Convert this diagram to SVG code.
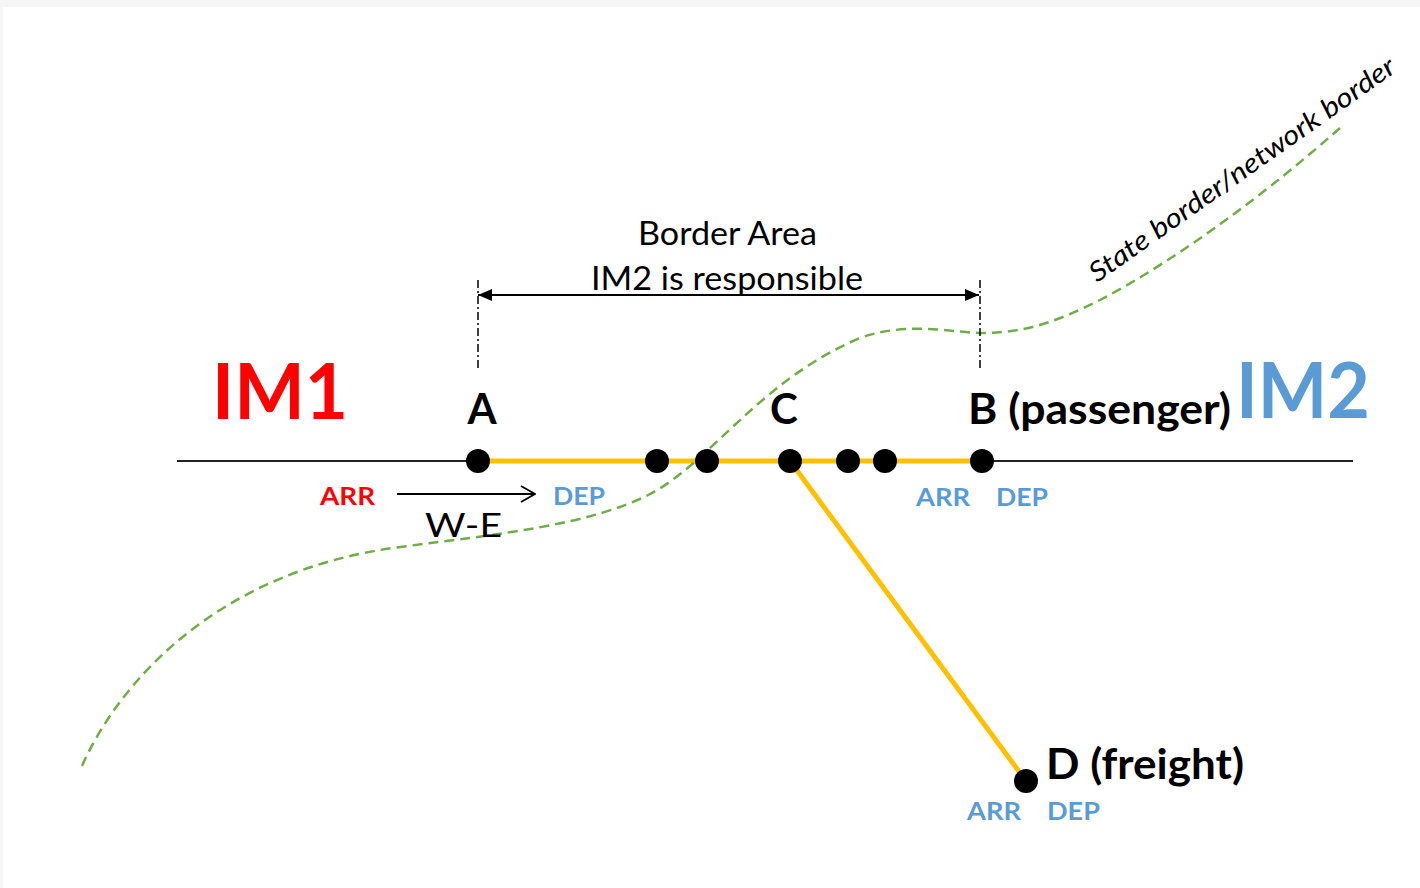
<svg xmlns="http://www.w3.org/2000/svg" width="1420" height="888" viewBox="0 0 1420 888">
<defs>
<style>
.lbl{font-family:Lato,"Liberation Sans",sans-serif;font-weight:bold;fill:#000}
.big{font-family:Lato,"Liberation Sans",sans-serif;font-weight:bold;font-size:77px}
.small{font-family:Lato,"Liberation Sans",sans-serif;font-weight:bold;font-size:25px}
.reg{font-family:Lato,"Liberation Sans",sans-serif;font-size:32px;fill:#000}
.red{fill:#FF0000}
.blue{fill:#5B9BD5}
.track{stroke:#FFC000;stroke-width:5;fill:none}
.dot{fill:#000}
</style>
<marker id="fa" viewBox="0 0 14 12" refX="14" refY="6" markerWidth="14" markerHeight="12" markerUnits="userSpaceOnUse" orient="auto-start-reverse">
<path d="M0,0 L14,6 L0,12 Z" fill="#000"/>
</marker>
<marker id="oa" viewBox="0 0 16 18" refX="15" refY="9" markerWidth="16" markerHeight="18" markerUnits="userSpaceOnUse" orient="auto">
<path d="M1,1 L15,9 L1,17" fill="none" stroke="#000" stroke-width="1.8"/>
</marker>
</defs>
<rect x="0" y="0" width="1420" height="888" fill="#f5f5f5"/>
<rect x="3" y="7" width="1417" height="881" fill="#ffffff"/>

<g id="connectors">
<line x1="177" y1="461" x2="1353" y2="461" stroke="#222" stroke-width="1.8"/>
<line x1="478" y1="461" x2="982" y2="461" class="track"/>
<line x1="790" y1="461" x2="1026" y2="781" class="track"/>
<path id="border" d="M82,766 C120,680 220,570 400,547 C500,534 590,525 650,494 C710,463 760,380 860,338 C910,320 960,334 985,333 C1030,332 1060,320 1100,300 C1180,258 1270,190 1340,128" fill="none" stroke="#70AD47" stroke-width="2.5" stroke-dasharray="10 6"/>
<line x1="478" y1="280" x2="478" y2="368" stroke="#000" stroke-width="1.5" stroke-dasharray="8 3 2 3"/>
<line x1="980" y1="280" x2="980" y2="368" stroke="#000" stroke-width="1.5" stroke-dasharray="8 3 2 3"/>
<line x1="478" y1="295" x2="979" y2="295" stroke="#000" stroke-width="2" marker-start="url(#fa)" marker-end="url(#fa)"/>
<line x1="397" y1="494" x2="535" y2="494" stroke="#000" stroke-width="1.8" marker-end="url(#oa)"/>
</g>

<g id="node-A">
<circle cx="478" cy="461" r="12" class="dot"/>
<text x="482" y="424" text-anchor="middle" class="lbl" font-size="42">A</text>
<text x="320" y="505" class="small red" textLength="55" lengthAdjust="spacingAndGlyphs">ARR</text>
<text x="553" y="505" class="small blue" textLength="52" lengthAdjust="spacingAndGlyphs">DEP</text>
</g>
<g id="node-p1"><circle cx="657" cy="461" r="12" class="dot"/></g>
<g id="node-p2"><circle cx="707" cy="461" r="12" class="dot"/></g>
<g id="node-C">
<circle cx="790" cy="461" r="12" class="dot"/>
<text x="784" y="424" text-anchor="middle" class="lbl" font-size="42">C</text>
</g>
<g id="node-p3"><circle cx="848" cy="461" r="12" class="dot"/></g>
<g id="node-p4"><circle cx="885" cy="461" r="12" class="dot"/></g>
<g id="node-B">
<circle cx="982" cy="461" r="12" class="dot"/>
<text x="968" y="424" class="lbl" font-size="42" textLength="263" lengthAdjust="spacingAndGlyphs">B (passenger)</text>
<text x="916" y="506" class="small blue" textLength="54" lengthAdjust="spacingAndGlyphs">ARR</text>
<text x="996" y="506" class="small blue" textLength="52" lengthAdjust="spacingAndGlyphs">DEP</text>
</g>
<g id="node-D">
<circle cx="1026" cy="781" r="12" class="dot"/>
<text x="1046" y="779" class="lbl" font-size="42" textLength="198" lengthAdjust="spacingAndGlyphs">D (freight)</text>
<text x="967" y="820" class="small blue" textLength="54" lengthAdjust="spacingAndGlyphs">ARR</text>
<text x="1047" y="820" class="small blue" textLength="53" lengthAdjust="spacingAndGlyphs">DEP</text>
</g>

<g id="labels">
<text x="212" y="419" class="big red" textLength="136" lengthAdjust="spacingAndGlyphs">IM1</text>
<text x="1236" y="418" class="big blue" textLength="134" lengthAdjust="spacingAndGlyphs">IM2</text>
<text x="638" y="245" class="reg" textLength="179" lengthAdjust="spacingAndGlyphs">Border Area</text>
<text x="591" y="290" class="reg" textLength="272" lengthAdjust="spacingAndGlyphs">IM2 is responsible</text>
<text x="425" y="537" class="reg" font-size="40" textLength="77" lengthAdjust="spacingAndGlyphs">W-E</text>
<text transform="translate(1097,283) rotate(-35.2)" font-family="Lato,'Liberation Sans',sans-serif" font-style="italic" font-size="27" fill="#000" textLength="368" lengthAdjust="spacingAndGlyphs">State border/network border</text>
</g>
</svg>
